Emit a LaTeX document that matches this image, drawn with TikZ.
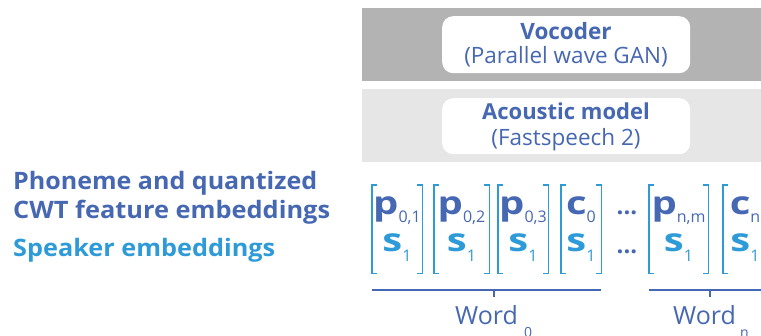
\documentclass[tikz,border=0pt]{standalone}
\usepackage{fontspec}
\usepackage{graphicx}
\setmainfont{Open Sans}
\definecolor{dblue}{HTML}{4667B2}
\definecolor{lblue}{HTML}{2E9BD8}
\definecolor{gdark}{HTML}{B3B3B3}
\definecolor{glight}{HTML}{E6E6E6}
\newcommand{\pf}{\fontsize{32}{32}\bfseries\selectfont}
\newcommand{\wideglyph}[1]{\scalebox{1.25}[1]{#1}}
\newcommand{\fitw}[2]{\resizebox{#1}{\height}{#2}}
\newcommand{\subf}[1]{{\fontsize{16}{16}\mdseries\selectfont\raisebox{-8pt}{#1}}}
\newcommand{\subs}[1]{{\fontsize{16}{16}\mdseries\selectfont\raisebox{-10pt}{#1}}}
\begin{document}
\begin{tikzpicture}[x=1pt,y=-1pt,
  band/.style={draw=none,inner sep=0pt,anchor=north west},
  wbox/.style={fill=white,rounded corners=11pt,inner sep=0pt,anchor=north west},
  tok/.style={inner sep=0pt,anchor=north west,minimum height=88pt},
  brk/.style={draw=lblue,line width=1.2pt},
  wline/.style={draw=dblue,line width=1.2pt},
  txt/.style={inner sep=0pt,anchor=base},
  wtxt/.style={inner sep=0pt,anchor=base west,text=dblue},
  lt/.style={inner sep=0pt,anchor=base west,font=\fontsize{24}{24}\bfseries\selectfont}]
\useasboundingbox (0,0) rectangle (761,336);
\clip (0,0) rectangle (761,336);
% bands
\node[band,fill=gdark,minimum width=399pt,minimum height=73pt] (vband) at (362,8) {};
\node[band,fill=glight,minimum width=399pt,minimum height=73pt] (aband) at (362,89) {};
\node[wbox,minimum width=248pt,minimum height=57pt] (vbox) at (442,16) {};
\node[wbox,minimum width=248pt,minimum height=56pt] (abox) at (442,98) {};
\node[txt,text=dblue,font=\fontsize{22.5}{22}\bfseries\selectfont] (vt1) at (566,40) {Vocoder};
\node[txt,text=dblue,font=\fontsize{22.5}{22}\selectfont] (vt2) at (566,64) {(Parallel wave GAN)};
\node[txt,text=dblue,font=\fontsize{22}{22}\bfseries\selectfont] (at1) at (566,120) {Acoustic model};
\node[txt,text=dblue,font=\fontsize{22.5}{22}\selectfont] (at2) at (566,146) {(Fastspeech 2)};
% left labels
\node[lt,text=dblue] (l1) at (13,190) {\fitw{304pt}{Phoneme and quantized}};
\node[lt,text=dblue] (l2) at (13,219) {\fitw{317pt}{CWT feature embeddings}};
\node[lt,text=lblue] (l3) at (13,257) {\fitw{262pt}{Speaker embeddings}};
% token boxes
\node[tok,minimum width=50pt] (b1) at (372,185) {};
\node[tok,minimum width=55pt] (b2) at (434,185) {};
\node[tok,minimum width=50pt] (b3) at (498,185) {};
\node[tok,minimum width=40pt] (b4) at (561,185) {};
\node[tok,minimum width=59pt] (b5) at (649,185) {};
\node[tok,minimum width=45pt] (b6) at (723,185) {};
\foreach \b in {b1,b2,b3,b4,b5,b6}{
  \draw[brk] ([xshift=5pt]\b.north west) -- (\b.north west) -- (\b.south west) -- ([xshift=5pt]\b.south west);
  \draw[brk] ([xshift=-5pt]\b.north east) -- (\b.north east) -- (\b.south east) -- ([xshift=-5pt]\b.south east);
}
% token texts
\node[txt,text=dblue] (p1) at (397,215) {\pf\wideglyph{p}\subf{0,1}};
\node[txt,text=dblue] (p2) at (461.5,215) {\pf\wideglyph{p}\subf{0,2}};
\node[txt,text=dblue] (p3) at (523,215) {\pf\wideglyph{p}\subf{0,3}};
\node[txt,text=dblue] (c0) at (581,215) {\pf\wideglyph{c}\subf{0}};
\node[txt,text=dblue] (p5) at (678.5,215) {\pf\wideglyph{p}\subf{n,m}};
\node[txt,text=dblue] (cn) at (745,215) {\pf\wideglyph{c}\subf{n}};
\foreach \b/\x in {s1/397,s2/461.5,s3/523,s4/581,s5/678.5,s6/745}{
  \node[txt,text=lblue] (\b) at (\x,252) {\pf\wideglyph{s}\subs{1}};
}
\node[txt,text=dblue,font=\fontsize{24}{24}\bfseries\selectfont] (d1) at (627,215) {...};
\node[txt,text=dblue,font=\fontsize{24}{24}\bfseries\selectfont] (d2) at (627,254) {...};
% word braces
\coordinate (w0a) at (372,290); \coordinate (w0b) at (601,290); \coordinate (w0m) at (494,290);
\coordinate (wna) at (649,290); \coordinate (wnb) at (775,290); \coordinate (wnm) at (710,290);
\draw[wline] (w0a) -- (w0b);
\draw[wline] (w0m) -- ++(0,7) coordinate (w0t);
\draw[wline] (wna) -- (wnb);
\draw[wline] (wnm) -- ++(0,7) coordinate (wnt);
\node[wtxt,font=\fontsize{25}{25}\selectfont] (word0) at (455,325) {Word};
\node[wtxt,font=\fontsize{14}{14}\selectfont] (sub0) at (524,338) {0};
\node[wtxt,font=\fontsize{25}{25}\selectfont] (wordn) at (673,325) {Word};
\node[wtxt,font=\fontsize{14}{14}\selectfont] (subn) at (740,338) {n};
\end{tikzpicture}
\end{document}
